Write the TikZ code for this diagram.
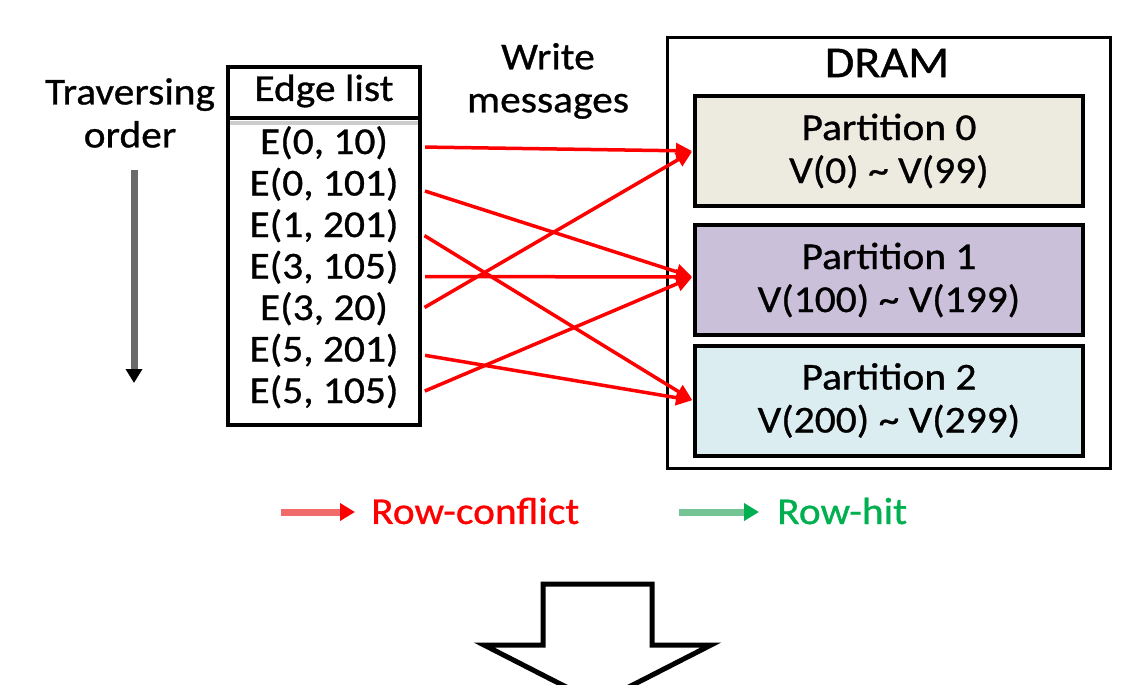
\documentclass[tikz,border=0pt]{standalone}
\usepackage{fontspec}
\setmainfont{Carlito}[FakeStretch=1.09, FakeBold=0.8]
\usetikzlibrary{arrows.meta, positioning}
\definecolor{confred}{HTML}{FF0000}
\definecolor{conflight}{HTML}{F26B6B}
\definecolor{hitgreen}{HTML}{00B050}
\definecolor{hitlight}{HTML}{74C496}
\definecolor{part0}{HTML}{EDEADF}
\definecolor{part1}{HTML}{CBC0DA}
\definecolor{part2}{HTML}{DCEDF2}
\definecolor{ordergray}{HTML}{6A6A6A}

\begin{document}
\begin{tikzpicture}[x=1pt, y=-1pt,
  txt/.style={inner sep=0pt, align=center, font=\fontsize{38}{43}\selectfont},
  edgerow/.style={txt, minimum width=192pt, text height=26pt, text depth=12pt},
  part/.style={txt, draw=black, line width=4pt, minimum width=388pt,
               minimum height=110pt},
  frame/.style={draw=black, minimum width=#1},
  msg/.style={-{Triangle[length=16pt, width=15pt]}, line width=3.5pt,
              color=confred, shorten <=5pt, shorten >=1pt},
  legarr/.style={-{Triangle[length=15pt, width=17pt, color=#1]}, line width=7pt}
]
\clip (0,0) rectangle (1135,685);

% Traversing order
\node[txt] (trav) at (130,113) {Traversing\\order};
\coordinate (tvtop) at (134,170);
\coordinate (tvend) at (134,383);
\draw[-{Triangle[length=14pt, width=16pt, color=black]}, line width=7pt,
      ordergray] (tvtop) -- (tvend);

% Edge list
\node[frame=192pt, line width=4pt, minimum height=358pt] (elist) at (324,246) {};
\node[txt] (ehead) at (324,91) {Edge list};
\draw[line width=4pt, black!20] (230,123) -- (418,123);
\draw[line width=4pt] (228,118) -- (420,118);
\foreach \lbl [count=\i from 0] in {{E(0, 10)}, {E(0, 101)}, {E(1, 201)},
    {E(3, 105)}, {E(3, 20)}, {E(5, 201)}, {E(5, 105)}}
  \node[edgerow] (e\i) at (324,147+41.5*\i) {\lbl};

% Write messages
\node[txt] (wmsg) at (548,81) {Write\\messages};

% DRAM with its partitions
\node[frame=443pt, line width=3pt, minimum height=430pt] (dram) at (888.5,253) {};
\node[txt, font=\fontsize{44}{50}\selectfont] (dlbl) at (887,63) {DRAM};
\node[part, fill=part0] (p0) at (889,151)
  {Partition 0\\V(0) \textasciitilde{} V(99)};
\node[part, fill=part1] (p1) at (889,280)
  {Partition 1\\V(100) \textasciitilde{} V(199)};
\node[part, fill=part2] (p2) at (889,400.5)
  {Partition 2\\V(200) \textasciitilde{} V(299)};

% message arrows (src/dst/start shift/end shift)
\foreach \src/\dst/\sy/\dy in {0/0/0/0, 1/1/-1/3, 2/2/-3/0, 3/1/-5/3,
                                4/0/3/0, 5/2/0/0, 6/1/3/3}
  \draw[msg] ([yshift=\sy pt]e\src.east) -- ([yshift=\dy pt]p\dst.west);

% Legend
\coordinate (rcstart) at (281,512);
\node[txt, text=confred, anchor=west] (rc) at (371,511) {Row-conflict};
\draw[legarr=confred, conflight, shorten >=16pt] (rcstart) -- (rcstart -| rc.west);
\coordinate (rhstart) at (679,512);
\node[txt, text=hitgreen, anchor=west] (rh) at (777,511) {Row-hit};
\draw[legarr=hitgreen, hitlight, shorten >=18pt] (rhstart) -- (rhstart -| rh.west);

% Big down arrow
\draw[line width=5pt, miter limit=10] (543,584) -- (652,584) -- (652,645)
  -- (711,645) -- (597.5,703) -- (484,645) -- (543,645) -- cycle;

\end{tikzpicture}
\end{document}
